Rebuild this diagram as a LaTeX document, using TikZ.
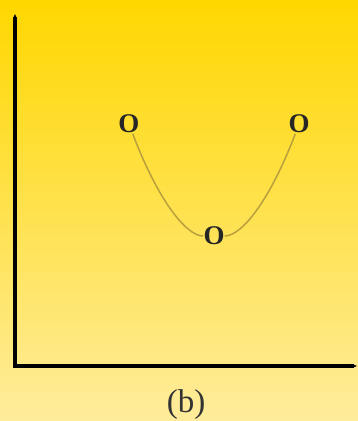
\documentclass[tikz,border=0pt]{standalone}
\usepackage{fontspec}
\setmainfont{Liberation Serif}
\usetikzlibrary{arrows.meta}
\definecolor{bgtop}{HTML}{FFD700}
\definecolor{bgbot}{HTML}{FFEC9C}
\definecolor{curvecol}{HTML}{B9A03C}
\tikzset{
  marker/.style={inner sep=0pt, minimum width=20pt, minimum height=19pt, font=\fontsize{27}{30}\selectfont\bfseries, text=black!85},
  axis/.style={line width=3.5pt, {Stealth[length=5pt,width=4pt]}-{Stealth[length=5pt,width=4pt]}},
  curve/.style={draw=curvecol, line width=1.5pt},
  caption/.style={inner sep=0pt, font=\fontsize{33}{38}\selectfont, text=black!80}
}
\begin{document}
\begin{tikzpicture}[x=1pt, y=-1pt]
  \shade[top color=bgtop, bottom color=bgbot] (0,0) rectangle (358,421);
  \useasboundingbox (0,0) rectangle (358,421);
  \coordinate (ytop) at (15,14);
  \coordinate (orig) at (15,366);
  \coordinate (xend) at (357,366);
  \draw[axis] (ytop) -- (orig) -- (xend);
  \node[marker] (p1) at (129,124) {O};
  \node[marker] (p2) at (214,236) {O};
  \node[marker] (p3) at (299,124) {O};
  \draw[curve] (p1) .. controls (157.3,198.7) and (185.7,236) .. (p2);
  \draw[curve] (p2) .. controls (242.3,236) and (270.7,198.7) .. (p3);
  \node[caption] (lab) at (186,405) {(b)};
\end{tikzpicture}
\end{document}
